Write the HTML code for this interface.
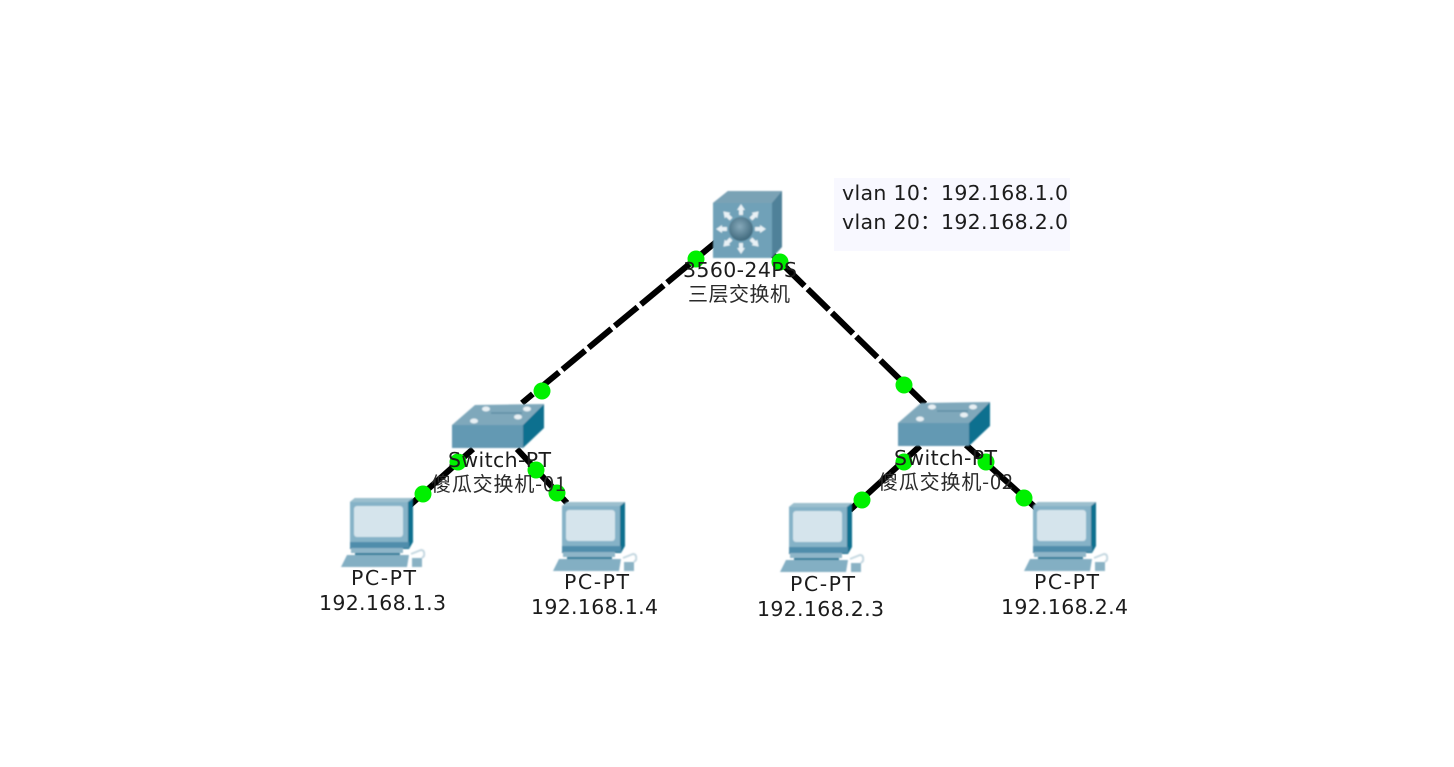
<!DOCTYPE html>
<html><head><meta charset="utf-8"><style>
html,body{margin:0;padding:0;background:#fff;width:1454px;height:767px;overflow:hidden}
svg{display:block}
text{font-family:"DejaVu Sans","Noto Sans CJK SC",sans-serif;font-size:20.5px;fill:#1c1c1c}
text.z{font-family:"Noto Sans CJK SC","WenQuanYi Zen Hei",sans-serif;font-size:20px;fill:#2a2a2a}
</style></head><body>
<svg width="1454" height="767" viewBox="0 0 1454 767" xmlns="http://www.w3.org/2000/svg">
<defs>
<filter id="b" x="-5%" y="-5%" width="110%" height="110%"><feGaussianBlur stdDeviation="0.7"/></filter>
<filter id="t" x="-5%" y="-20%" width="110%" height="140%"><feGaussianBlur stdDeviation="0.3"/></filter>
<radialGradient id="ball" cx="45%" cy="40%" r="60%"><stop offset="0" stop-color="#86a9ba"/><stop offset="1" stop-color="#3f687c"/></radialGradient>
<g id="pc" filter="url(#b)">
<polygon points="9,4 14,0 72,0 72,44 68,51 9,51" fill="#0f6f8f"/>
<polygon points="9,4 14,0 72,0 67,4" fill="#9bbfce"/>
<rect x="9" y="4" width="58" height="40" fill="#85b2c7"/>
<rect x="13" y="8" width="49" height="31" rx="3" fill="#d5e4ec"/>
<rect x="9" y="44" width="59" height="6" fill="#4f8dab"/>
<polygon points="10,50 62,50 62,55 10,55" fill="#8fb6c8"/>
<rect x="14" y="55" width="45" height="2" fill="#2f7d99"/>
<polygon points="6,57 68,57 66,69 0,69" fill="#83afc3"/>
<path d="M70,56 L80,52 Q84,52 83,58 L81,60" fill="none" stroke="#c5d8e1" stroke-width="2"/>
<rect x="71" y="60" width="10" height="9" fill="#8ab2c4"/>
</g>
<g id="sw" filter="url(#b)">
<polygon points="452,425 475,405 544,404 523,425" fill="#7fa8bb"/>
<polygon points="452,425 523,425 523,448 452,448" fill="#6499b3"/>
<polygon points="523,425 544,404 544,428 523,448" fill="#0f6f8f"/>
<g fill="#e8f0f4"><ellipse cx="486" cy="409" rx="4" ry="2.5"/><ellipse cx="527" cy="409" rx="4" ry="2.5"/><ellipse cx="474" cy="421" rx="4" ry="2.5"/><ellipse cx="518" cy="417" rx="4" ry="2.5"/></g>
<g stroke="#5e8ea6" stroke-width="1.5"><line x1="491" y1="413" x2="522" y2="413"/></g>
</g>
<polygon id="ar" points="0,-25 4,-19 2,-19 2,-14 -2,-14 -2,-19 -4,-19" fill="#e8f1f5"/>
</defs>

<rect x="834" y="178" width="236" height="73" fill="#f8f8ff"/>

<g stroke="#000" stroke-width="6" fill="none">
<line x1="716" y1="242" x2="522" y2="403" stroke-dasharray="29.5 4.5"/>
<line x1="772" y1="254" x2="925" y2="404" stroke-dasharray="29.5 4.5" stroke-dashoffset="18"/>
<line x1="473" y1="449" x2="408" y2="507"/>
<line x1="517" y1="449" x2="567" y2="503"/>
<line x1="920" y1="446" x2="850" y2="510"/>
<line x1="966" y1="445" x2="1036" y2="508"/>
</g>

<g filter="url(#b)">
<polygon points="713,203 728,191 782,191 782,247 772,258 713,258" fill="#4f8199"/>
<polygon points="713,203 728,191 782,191 772,203" fill="#7aa2b5"/>
<rect x="713" y="203" width="59" height="55" fill="#6fa1b8"/>
<g transform="translate(741,229)">
<use href="#ar"/><use href="#ar" transform="rotate(45)"/><use href="#ar" transform="rotate(90)"/><use href="#ar" transform="rotate(135)"/>
<use href="#ar" transform="rotate(180)"/><use href="#ar" transform="rotate(225)"/><use href="#ar" transform="rotate(270)"/><use href="#ar" transform="rotate(315)"/>
</g>
<circle cx="741" cy="229" r="12" fill="url(#ball)"/>
</g>
<use href="#sw"/>
<use href="#sw" transform="translate(446,-2)"/>
<use href="#pc" transform="translate(341,498)"/>
<use href="#pc" transform="translate(553,502)"/>
<use href="#pc" transform="translate(780,503)"/>
<use href="#pc" transform="translate(1024,502)"/>

<g fill="#00f000">
<circle cx="696" cy="259" r="8.5"/><circle cx="780" cy="262" r="8.5"/>
<circle cx="542" cy="391" r="8.5"/><circle cx="904" cy="385" r="8.5"/>
<circle cx="458" cy="462" r="8.5"/><circle cx="536" cy="470" r="8.5"/>
<circle cx="423" cy="494" r="8.5"/><circle cx="557" cy="493" r="8.5"/>
<circle cx="904" cy="462" r="8.5"/><circle cx="986" cy="462" r="8.5"/>
<circle cx="862" cy="500" r="8.5"/><circle cx="1024" cy="498" r="8.5"/>
</g>

<g filter="url(#t)">
<text x="842" y="200" textLength="226" lengthAdjust="spacing">vlan 10：192.168.1.0</text>
<text x="842" y="229" textLength="226" lengthAdjust="spacing">vlan 20：192.168.2.0</text>
<text x="683" y="277" textLength="114" lengthAdjust="spacing">3560-24PS</text>
<text class="z" x="688" y="301" textLength="102" lengthAdjust="spacing">三层交换机</text>
<text x="448" y="467" textLength="103" lengthAdjust="spacing">Switch-PT</text>
<text class="z" x="431" y="491" textLength="135" lengthAdjust="spacing">傻瓜交换机-01</text>
<text x="894" y="465" textLength="103" lengthAdjust="spacing">Switch-PT</text>
<text class="z" x="878" y="489" textLength="135" lengthAdjust="spacing">傻瓜交换机-02</text>
<text x="351" y="585" textLength="65" lengthAdjust="spacing">PC-PT</text>
<text x="319" y="610" textLength="127" lengthAdjust="spacing">192.168.1.3</text>
<text x="564" y="589" textLength="65" lengthAdjust="spacing">PC-PT</text>
<text x="531" y="614" textLength="127" lengthAdjust="spacing">192.168.1.4</text>
<text x="790" y="591" textLength="65" lengthAdjust="spacing">PC-PT</text>
<text x="757" y="616" textLength="127" lengthAdjust="spacing">192.168.2.3</text>
<text x="1034" y="589" textLength="65" lengthAdjust="spacing">PC-PT</text>
<text x="1001" y="614" textLength="127" lengthAdjust="spacing">192.168.2.4</text>
</g>
</svg>
</body></html>
